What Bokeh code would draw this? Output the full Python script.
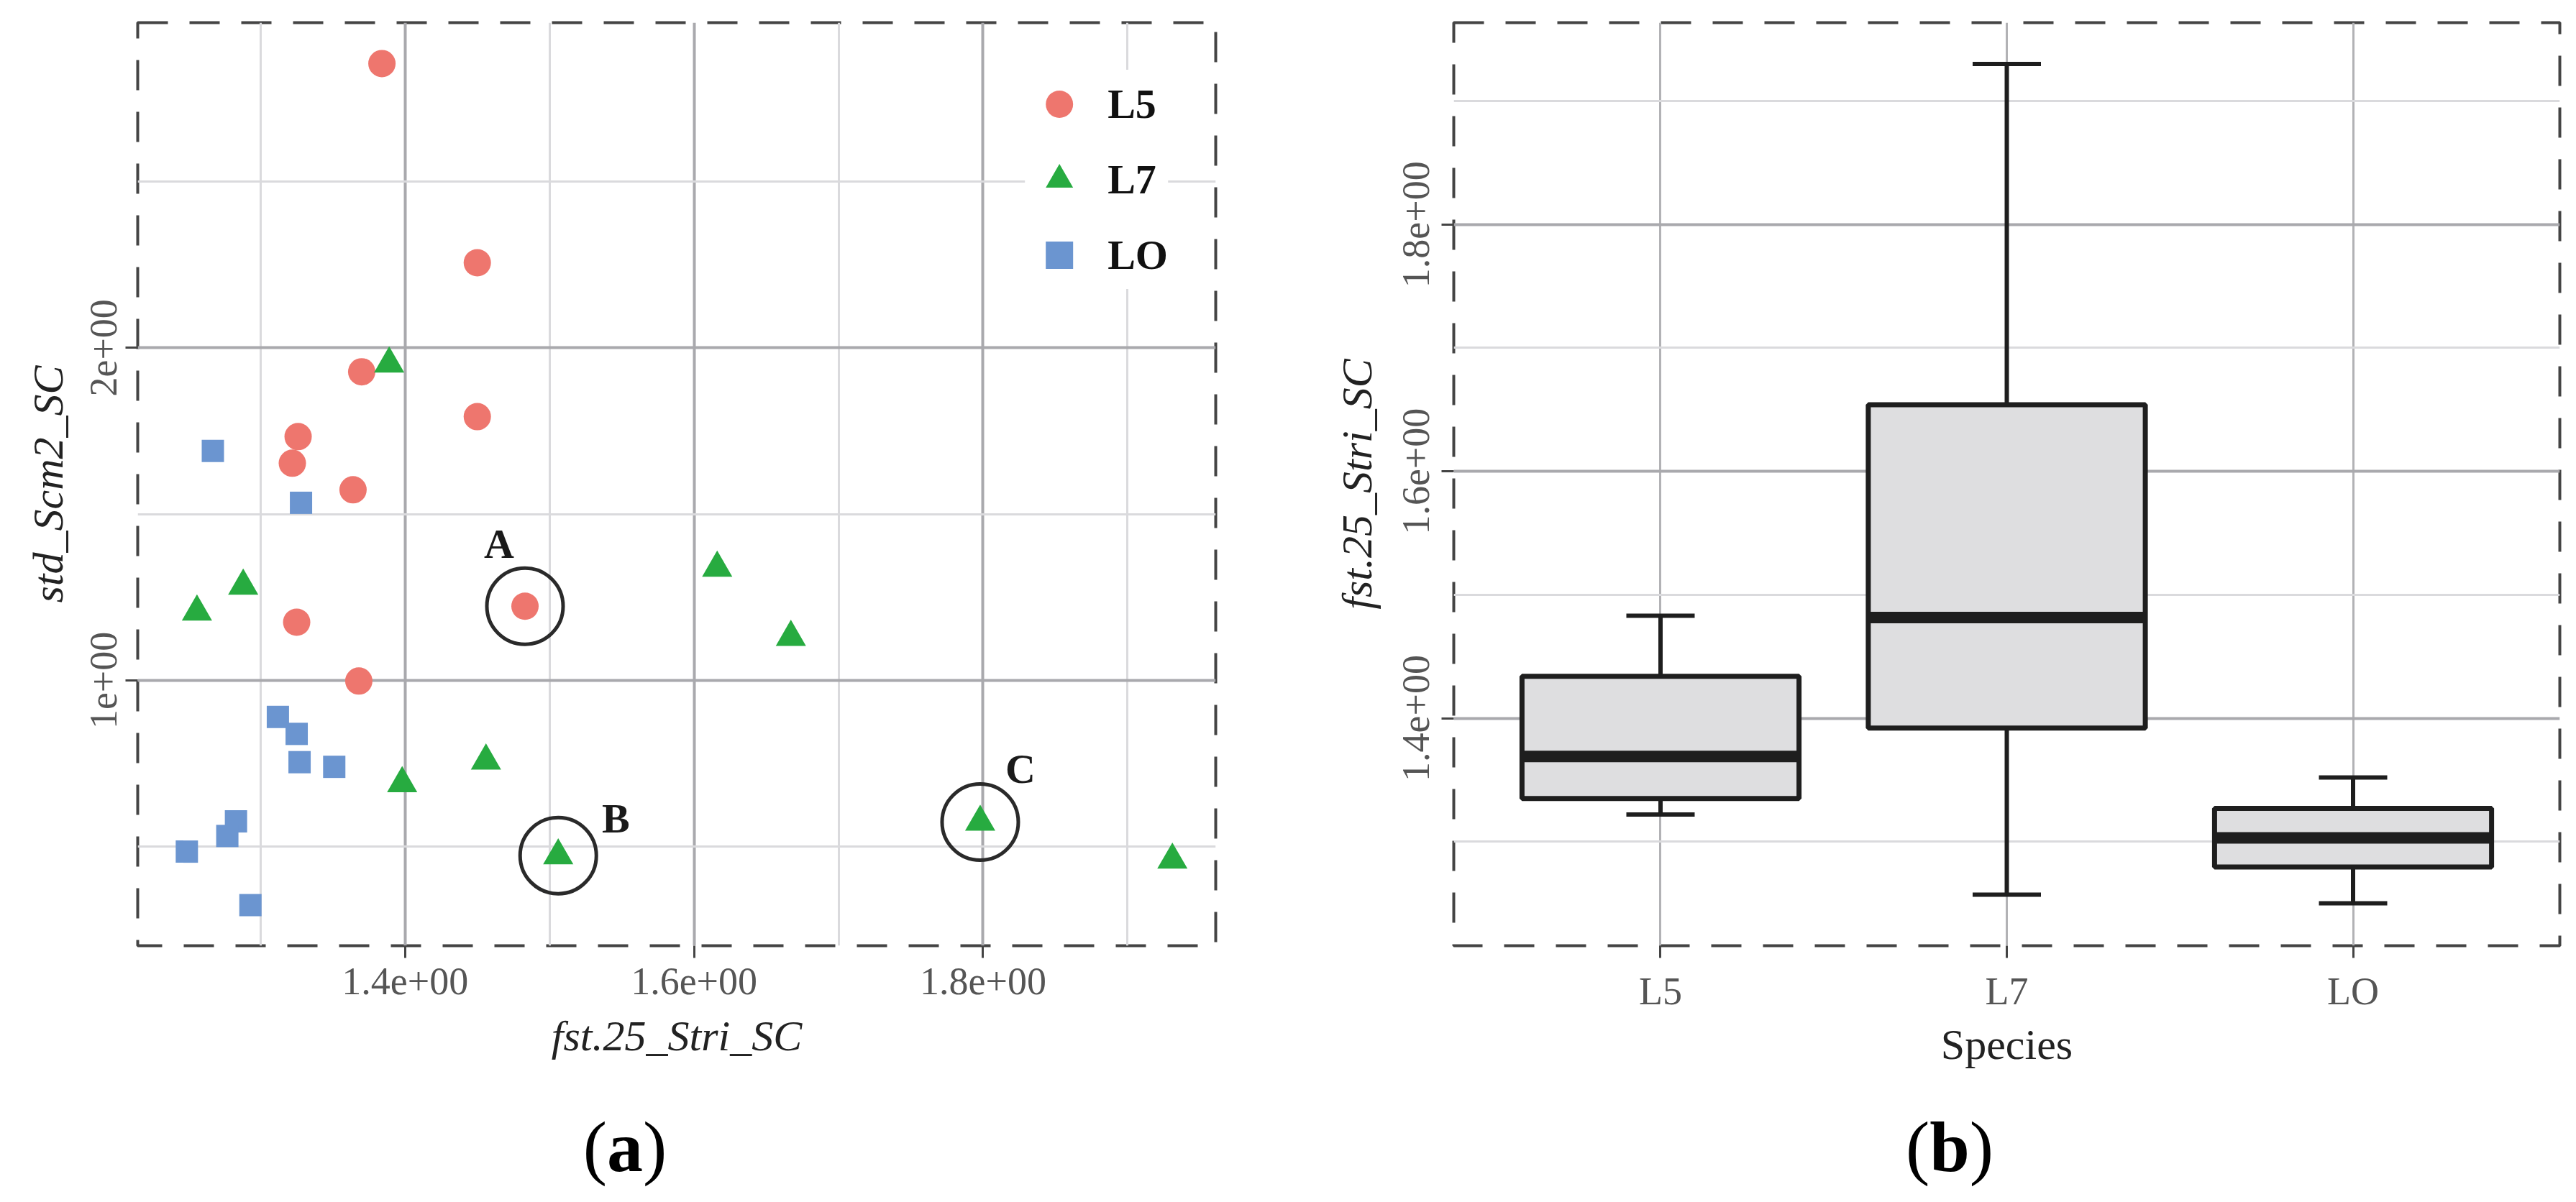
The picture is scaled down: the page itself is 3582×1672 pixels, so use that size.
from bokeh.plotting import figure
from bokeh.layouts import row, column
from bokeh.models import (Range1d, FactorRange, FixedTicker, CustomJSTickFormatter,
                          ColumnDataSource, Div)
from bokeh.core.properties import value
from bokeh.embed import file_html
from bokeh.resources import INLINE

# ---------------- data: panel (a) scatter ----------------
l5_x = [1.384, 1.450, 1.370, 1.450, 1.326, 1.322, 1.364, 1.483, 1.325, 1.368]
l5_y = [2.855, 2.256, 1.928, 1.793, 1.733, 1.653, 1.573, 1.223, 1.175, 0.998]
l7_x = [1.389, 1.288, 1.256, 1.616, 1.667, 1.398, 1.456, 1.506, 1.798, 1.931]
l7_y = [1.952, 1.284, 1.206, 1.338, 1.130, 0.690, 0.758, 0.473, 0.574, 0.460]
lo_x = [1.267, 1.328, 1.312, 1.325, 1.327, 1.351, 1.283, 1.277, 1.249, 1.293]
lo_y = [1.690, 1.534, 0.890, 0.839, 0.754, 0.740, 0.576, 0.532, 0.485, 0.324]

# highlighted points: (label, series, index)
highlight_labels = ["A", "B", "C"]
highlight_series = ["L5", "L7", "L7"]
highlight_index = [7, 7, 8]

a_x_ticks = [1.4, 1.6, 1.8]
a_x_minor = [1.3, 1.5, 1.7, 1.9]
a_y_ticks = [1.0, 2.0]
a_y_minor = [0.5, 1.5, 2.5]

# ---------------- data: panel (b) boxplot ----------------
species = ["L5", "L7", "LO"]
whisker_low = [1.322, 1.257, 1.250]
box_q1 = [1.335, 1.392, 1.2795]
box_median = [1.369, 1.4815, 1.303]
box_q3 = [1.434, 1.654, 1.327]
whisker_high = [1.483, 1.930, 1.352]

b_y_ticks = [1.4, 1.6, 1.8]
b_y_minor = [1.3, 1.5, 1.7, 1.9]

# ---------------- captions ----------------
cap_letters = ["a", "b"]

# ---------------- styling ----------------
SERIF = "Liberation Serif"
RED, GREEN, BLUE = "#ee766e", "#27ab40", "#6b95d0"
TICK_COLOR = "#555555"
TITLE_COLOR = "#222222"

fmt = CustomJSTickFormatter(code="""
const s = Number(tick.toPrecision(12)).toExponential();
return s.replace(/e([+-])(\\d)$/, function(m, a, b) { return "e" + a + "0" + b; });
""")


def style_axes(p):
    for ax in (p.xaxis[0], p.yaxis[0]):
        ax.axis_line_color = None
        ax.major_tick_line_color = "#444444"
        ax.major_tick_line_width = 3
        ax.major_tick_in = 0
        ax.major_tick_out = 17
        ax.minor_tick_line_color = None
        ax.major_label_text_font = SERIF
        ax.major_label_text_font_size = "54px"
        ax.major_label_text_color = TICK_COLOR
        ax.axis_label_text_font = SERIF
        ax.axis_label_text_font_size = "60px"
        ax.axis_label_text_color = TITLE_COLOR
        ax.axis_label_text_font_style = "normal"
    p.outline_line_color = "#444444"
    p.outline_line_width = 4
    p.outline_line_dash = "42 30"
    p.background_fill_color = "white"
    p.border_fill_color = "white"


# ---------------- panel (a) ----------------
p1 = figure(width=1790, height=1500, min_border_left=191, min_border_right=100,
            min_border_top=31, min_border_bottom=185,
            x_range=Range1d(1.215, 1.961), y_range=Range1d(0.202, 2.978),
            toolbar_location=None, output_backend="svg")
style_axes(p1)
p1.xaxis[0].ticker = FixedTicker(ticks=a_x_ticks, minor_ticks=a_x_minor)
p1.yaxis[0].ticker = FixedTicker(ticks=a_y_ticks, minor_ticks=a_y_minor)
p1.xaxis[0].formatter = fmt
p1.yaxis[0].formatter = fmt
p1.xaxis[0].axis_label = "fst.25_Stri_SC"
p1.yaxis[0].axis_label = "std_Scm2_SC"
p1.xaxis[0].axis_label_text_font_style = "italic"
p1.yaxis[0].axis_label_text_font_style = "italic"
p1.yaxis[0].major_label_orientation = "vertical"
p1.xaxis[0].major_label_standoff = 14
p1.xaxis[0].axis_label_standoff = 22
p1.yaxis[0].major_label_standoff = 12
p1.yaxis[0].axis_label_standoff = 24

for g in (p1.xgrid[0], p1.ygrid[0]):
    g.grid_line_color = "#a9a9ad"
    g.grid_line_width = 4
    g.minor_grid_line_color = "#dadadd"
    g.minor_grid_line_width = 3

p1.scatter(l5_x, l5_y, marker="circle", size=38, fill_color=RED, line_color=None,
           legend_label="L5")
p1.scatter(l7_x, l7_y, marker="triangle", size=42, fill_color=GREEN, line_color=None,
           legend_label="L7")
p1.scatter(lo_x, lo_y, marker="square", size=31, fill_color=BLUE, line_color=None,
           legend_label="LO")

series_xy = {"L5": (l5_x, l5_y), "L7": (l7_x, l7_y), "LO": (lo_x, lo_y)}
hx = [series_xy[s][0][i] for s, i in zip(highlight_series, highlight_index)]
hy = [series_xy[s][1][i] for s, i in zip(highlight_series, highlight_index)]
p1.scatter(hx, hy, marker="circle", size=106, fill_color=None,
           line_color="#2a2a2a", line_width=5)
p1.text(hx, hy, text=highlight_labels, x_offset=[-36, 80, 56], y_offset=[-87, -52, -74],
        text_font=value(SERIF), text_font_style="bold", text_font_size="58px",
        text_color="#1a1a1a", text_align="center", text_baseline="middle")

lg = p1.legend[0]
lg.location = "top_right"
lg.margin = 66
lg.padding = 20
lg.glyph_width = 95
lg.glyph_height = 95
lg.spacing = 10
lg.label_standoff = 20
lg.label_text_font = SERIF
lg.label_text_font_style = "bold"
lg.label_text_font_size = "58px"
lg.label_text_color = "#111111"
lg.border_line_color = None
lg.background_fill_color = "white"
lg.background_fill_alpha = 1.0

# ---------------- panel (b) ----------------
p2 = figure(width=1784, height=1500, min_border_left=231, min_border_right=15,
            min_border_top=15, min_border_bottom=172,
            x_range=FactorRange(factors=species, range_padding=0.0647),
            y_range=Range1d(1.2157, 1.9635),
            toolbar_location=None, output_backend="svg")
style_axes(p2)
p2.yaxis[0].ticker = FixedTicker(ticks=b_y_ticks, minor_ticks=b_y_minor)
p2.yaxis[0].formatter = fmt
p2.yaxis[0].axis_label = "fst.25_Stri_SC"
p2.yaxis[0].axis_label_text_font_style = "italic"
p2.xaxis[0].axis_label = "Species"
p2.xaxis[0].axis_label_text_font_style = "normal"
p2.yaxis[0].major_label_orientation = "vertical"
p2.xaxis[0].major_label_standoff = 16
p2.xaxis[0].axis_label_standoff = 8
p2.yaxis[0].major_label_standoff = 17
p2.yaxis[0].axis_label_standoff = 29

p2.ygrid[0].grid_line_color = "#a9a9ad"
p2.ygrid[0].grid_line_width = 4
p2.ygrid[0].minor_grid_line_color = "#dadadd"
p2.ygrid[0].minor_grid_line_width = 3
p2.xgrid[0].grid_line_color = "#b2b2b5"
p2.xgrid[0].grid_line_width = 3

src = ColumnDataSource(dict(sp=species, lo=whisker_low, q1=box_q1, med=box_median,
                            q3=box_q3, hi=whisker_high))
BOX_LINE = "#1e1e1e"
p2.segment(x0="sp", y0="q3", x1="sp", y1="hi", source=src, line_color=BOX_LINE, line_width=6)
p2.segment(x0="sp", y0="lo", x1="sp", y1="q1", source=src, line_color=BOX_LINE, line_width=6)
p2.scatter(x="sp", y="hi", source=src, marker="dash", size=95, line_color=BOX_LINE, line_width=6)
p2.scatter(x="sp", y="lo", source=src, marker="dash", size=95, line_color=BOX_LINE, line_width=6)
p2.vbar(x="sp", width=0.8, bottom="q1", top="q3", source=src, fill_color="#dedee0",
        line_color=BOX_LINE, line_width=7)
p2.rect(x="sp", y="med", width=0.8, height=16, height_units="screen", source=src,
        fill_color=BOX_LINE, line_color=None)

# ---------------- caption strip (HTML text) ----------------
cap_centers = [869, 2711]
spans = "".join(
    '<span style="position:absolute;left:{x}px;top:46px;transform:translateX(-50%);'
    'line-height:1;white-space:nowrap;">(<b>{t}</b>)</span>'.format(x=x, t=t)
    for x, t in zip(cap_centers, cap_letters))
caption = Div(text='<div style="position:relative;width:3574px;height:160px;'
                   'font-family:\'Liberation Serif\',serif;font-size:100px;color:#000;">'
                   + spans + '</div>',
              width=3574, height=160, margin=0)

layout = column(row(p1, p2), caption)
open("out.html", "w").write(file_html(layout, INLINE))
